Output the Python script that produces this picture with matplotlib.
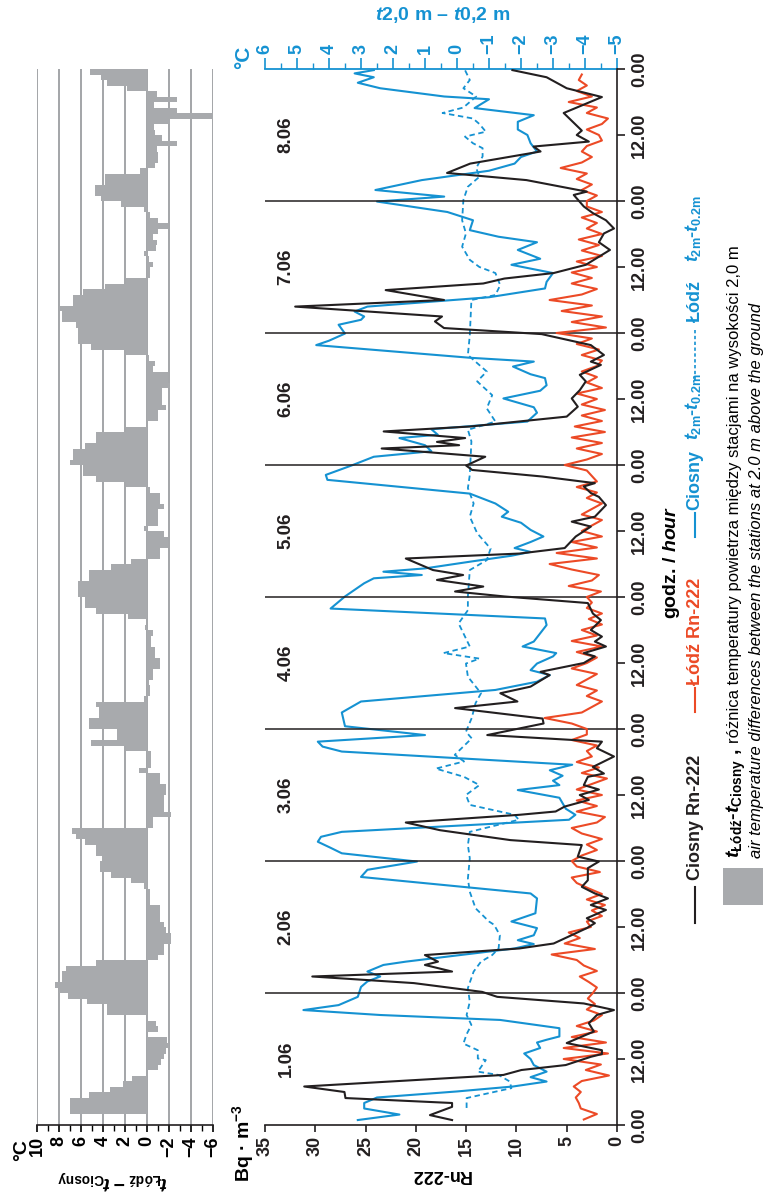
import numpy as np
import matplotlib

matplotlib.use("Agg")
from matplotlib import pyplot as plt
from matplotlib.lines import Line2D
from matplotlib.patches import Rectangle

plt.rcParams['font.family'] = ['Liberation Sans', 'DejaVu Sans']
plt.rcParams['font.weight'] = 'bold'
plt.rcParams['mathtext.fontset'] = 'custom'
plt.rcParams['mathtext.rm'] = 'Liberation Sans:bold'
plt.rcParams['mathtext.it'] = 'Liberation Sans:italic:bold'
plt.rcParams['mathtext.bf'] = 'Liberation Sans:bold'

BLACK = '#231f20'
RED = '#ec4a26'
BLUE = '#1592d2'
GRAY = '#a8aaad'
GRID = '#9c9ea1'

day_names = ['1.06', '2.06', '3.06', '4.06', '5.06', '6.06', '7.06', '8.06']
hour_ticks = list(range(0, 193, 12))
hour_labels = ['0.00' if h % 24 == 0 else '12.00' for h in hour_ticks]
rn_ticks = [0, 5, 10, 15, 20, 25, 30, 35]
dt_ticks = list(range(-5, 7))
diff_ticks = list(range(-6, 11, 2))

# Ciosny Rn-222 [Bq/m3], (hour from 1.06 0.00, value)
ciosny_rn_h = [0.9, 1.8, 3.3, 4.0, 4.9, 6.0, 7.0, 9.1, 10.0, 10.9, 12.4, 12.9, 13.6, 14.9, 17.0, 18.5, 20.0, 20.9,
               22.1, 23.3, 24.2, 25.1, 25.8, 27.0, 27.9, 29.1, 29.7, 30.9, 32.1, 33.0, 35.8, 36.7, 37.6, 39.1,
               40.0, 41.2, 42.1, 43.3, 44.5, 46.7, 47.9, 48.8, 50.9, 51.8, 53.6, 55.0, 56.4, 57.0, 57.9, 59.1,
               60.0, 61.0, 61.8, 63.3, 63.9, 65.1, 67.0, 68.5, 69.7, 70.9, 73.0, 73.9, 75.8, 77.0, 78.5, 79.7,
               81.8, 82.4, 84.0, 85.2, 85.8, 87.0, 87.9, 88.8, 90.0, 91.8, 93.0, 94.9, 96.1, 97.0, 97.9, 99.1,
               100.0, 100.9, 103.0, 103.9, 104.9, 107.0, 108.8, 109.7, 110.6, 112.7, 114.2, 114.9, 116.1,
               116.7, 117.9, 119.1, 119.9, 121.5, 123.0, 123.6, 124.2, 124.9, 126.1, 127.0, 128.8, 130.6,
               132.1, 133.6, 135.2, 136.4, 138.2, 138.8, 140.0, 141.8, 143.8, 144.9, 146.1, 147.0, 148.8,
               150.0, 151.8, 153.0, 153.9, 154.9, 156.4, 159.1, 160.5, 162.1, 163.0, 164.5, 165.8, 167.0,
               169.1, 169.7, 171.8, 173.1, 174.8, 177.0, 177.9, 178.8, 180.0, 180.8, 184.0, 186.9, 188.5,
               190.5, 191.8]
ciosny_rn = [16.4, 18.6, 16.4, 16.4, 27.0, 27.1, 31.1, 11.3, 9.5, 5.1, 2.6, 1.5, 1.5, 5.0, 2.3, 2.8, 2.0, 0.3,
             3.3, 11.9, 13.4, 17.2, 20.2, 30.3, 16.4, 19.1, 17.8, 19.1, 9.7, 6.3, 3.0, 2.2, 3.0, 1.1,
             2.6, 0.9, 2.2, 3.5, 2.9, 2.9, 1.8, 3.9, 3.5, 10.6, 17.6, 21.0, 9.7, 6.1, 5.2, 2.8,
             3.7, 1.8, 3.3, 2.9, 1.3, 2.4, 0.3, 2.0, 1.5, 12.9, 7.3, 7.4, 16.1, 9.9, 11.6, 8.6,
             6.7, 7.6, 3.3, 2.2, 3.3, 1.1, 2.2, 1.5, 2.6, 1.6, 2.4, 2.9, 11.2, 16.1, 13.3, 17.9,
             15.3, 18.3, 21.0, 9.7, 5.2, 4.1, 2.6, 4.5, 2.2, 1.1, 1.8, 2.6, 3.3,
             2.2, 7.4, 14.4, 15.0, 13.1, 23.4, 15.7, 17.9, 15.1, 23.2, 14.6, 5.0, 3.9,
             4.5, 3.7, 3.1, 3.7, 1.6, 2.6, 1.3, 2.6, 7.5, 17.2, 18.1, 17.4, 32.0,
             17.2, 23.0, 13.3, 11.2, 6.3, 3.1, 0.7, 1.8, 1.3, 0.3, 1.1, 2.4, 3.3,
             4.3, 3.0, 9.0, 16.9, 14.6, 7.6, 8.3, 2.8, 4.0, 3.5, 5.3, 1.5, 5.0,
             7.0, 10.4]

# Łódź Rn-222 [Bq/m3], hourly from 1.06 1.00
lodz_rn = [3.3, 2.0, 3.6, 3.8, 4.1, 3.6, 4.3, 3.5, 0.8, 3.1, 1.6, 5.3, 0.9, 5.3, 1.1, 4.5, 2.0, 4.0, 2.3, 1.5,
           3.0, 2.2, 2.9,
           2.4, 2.0, 2.8, 3.7, 2.0, 3.3, 4.0, 6.5, 2.2, 5.2, 3.7, 4.8, 2.6, 3.0, 1.5, 2.5, 1.2, 3.0, 1.5, 2.8,
           4.0, 4.5, 1.7, 4.0,
           4.5, 3.5, 2.0, 3.0, 1.5, 3.5, 4.5, 2.0, 1.2, 4.0, 2.0, 4.0, 1.5, 4.0, 2.5, 1.0, 3.5, 1.8, 4.0, 2.5,
           3.0, 2.0, 4.5, 3.0,
           3.0, 4.5, 7.2, 3.5, 2.5, 1.5, 3.0, 2.0, 4.0, 3.0, 2.0, 4.5, 3.0, 2.0, 4.0, 1.5, 4.5, 2.0, 3.5, 1.5,
           2.8, 1.5, 3.0, 2.5,
           3.0, 1.6, 4.8, 2.5, 1.8, 4.5, 6.7, 2.0, 6.0, 2.0, 4.5, 1.5, 3.5, 2.5, 1.5, 3.5, 2.5, 1.5, 3.0, 2.0,
           4.0, 2.0, 2.5, 3.0,
           5.2, 3.0, 1.5, 4.0, 1.5, 4.5, 1.2, 4.2, 1.5, 3.5, 1.2, 3.5, 2.0, 4.0, 1.5, 3.0, 2.0, 3.5, 2.0, 1.5,
           3.5, 1.8, 4.0, 2.5,
           6.0, 1.1, 4.5, 1.5, 5.5, 2.5, 6.7, 3.5, 2.0, 4.5, 2.5, 4.5, 2.0, 4.0, 1.5, 3.5, 1.8, 3.8, 1.5, 3.0,
           2.0, 3.5, 1.5, 3.0,
           3.0, 2.0, 3.5, 2.5, 4.0, 3.0, 5.6, 3.5, 2.5, 3.5, 3.0, 1.5, 1.8, 3.0, 1.5, 0.9, 3.0, 2.0, 4.8, 2.5,
           4.0, 3.0, 3.8, 3.5]

# Ciosny t2.0m - t0.2m [deg C]
ciosny_dt_h = [0.9, 1.9, 3.0, 4.0, 5.0, 6.1, 7.0, 7.9, 8.7, 9.7, 10.9, 12.0, 13.0, 14.0, 15.0, 15.5, 16.1, 17.6,
               19.1, 20.0, 20.9, 21.8, 23.3, 25.1, 26.1, 27.0, 27.9, 29.1, 29.7, 32.1, 32.9, 33.6, 34.5, 35.8,
               37.0, 38.5, 41.2, 42.1, 45.1, 46.4, 47.9, 49.4, 50.4, 51.5, 52.4, 53.3, 55.5, 56.4, 57.5, 58.5,
               59.5, 60.9, 61.8, 62.6, 63.5, 64.5, 65.5, 67.9, 68.8, 69.7, 70.9, 72.5, 75.0, 77.0, 79.1, 80.6,
               81.8, 82.7, 83.9, 85.2, 85.8, 87.0, 87.9, 89.4, 90.9, 92.1, 93.9, 96.1, 97.3, 98.5, 99.4, 100.0,
               100.6, 101.2, 102.5, 103.5, 104.2, 104.9, 106.0, 107.0, 108.2, 109.5, 110.6, 111.5, 113.0,
               114.8, 117.3, 118.2, 119.9, 121.5, 122.5, 123.6, 124.9, 125.5, 126.5, 127.9, 129.5, 130.5,
               132.1, 133.5, 134.5, 135.8, 136.5, 137.9, 138.8, 139.5, 141.8, 142.6, 143.9, 145.5, 146.4,
               147.0, 147.9, 148.8, 150.5, 152.1, 153.3, 154.9, 156.4, 157.5, 159.1, 160.5, 161.5, 162.7,
               164.5, 166.0, 167.9, 168.8, 170.0, 171.8, 173.5, 174.8, 176.0, 177.0, 178.5, 180.0, 181.0,
               182.4, 183.6, 184.9, 186.5, 187.0, 188.5, 189.5, 190.5, 191.2, 191.8]
ciosny_dt = [3.1, 1.8, 2.9, 2.9, 2.5, 0.0, -1.75, -2.8, -2.3, -2.8, -2.4, -2.3, -2.1, -2.6, -2.5, -2.8, -3.2, -3.2,
             -1.35, 2.4, 4.8, 3.7, 3.1, 3.0, 2.8, 2.4, 2.8, 2.3, 1.6, -1.8, -2.4, -1.9, -2.4, -2.5,
             -1.7, -2.45, -2.5, -2.3, 3.0, 2.8, 1.25, 3.6, 3.95, 4.35, 4.25, 3.6, -3.5, -3.7, -3.4, -3.3,
             -3.2, -1.9, -3.2, -3.0, -3.3, -2.9, -3.6, 3.6, 4.2, 4.35, 1.0, 3.5, 3.6, 3.0, -1.2, -2.5,
             -2.9, -2.3, -2.5, -3.0, -3.1, -2.05, -2.4, -2.6, -2.8, -2.75, 3.95, 3.5, 3.2, 2.9, 2.6, 1.1,
             2.3, 1.0, -0.5, -1.7, -2.3, -1.8, -2.3, -2.7, -2.3, -2.0, -1.4, -1.6, -1.2,
             -0.4, 4.05, 4.1, 3.3, 2.6, 0.8, 1.0, 1.8, 0.6, 0.8, -2.2, -2.5, -2.4,
             -1.45, -2.6, -2.8, -2.75, -2.3, -1.75, -2.4, -0.4, 4.4, 4.0, 3.5, 3.7, 3.0,
             2.9, 3.2, 2.8, -1.0, -2.75, -2.8, -3.0, -1.7, -2.6, -1.9, -2.5, -1.3, -0.4,
             -0.5, 0.3, 2.5, 0.4, 2.55, 1.1, -1.0, -1.8, -2.0, -2.5, -2.3, -2.2, -1.9,
             -1.9, -2.4, -0.55, -1.0, 0.4, 2.4, 3.1, 2.6, 3.2, 2.6]

# Łódź t2.0m - t0.2m [deg C]
lodz_dt_h = [3.1, 4.9, 6.7, 7.9, 9.1, 9.7, 11.8, 12.1, 13.6, 14.8, 16.5, 18.2, 20.0, 22.4, 24.9, 27.9, 29.7,
             30.9, 32.1, 34.5, 36.4, 37.0, 39.4, 42.4, 44.8, 48.5, 50.9, 53.3, 55.5, 56.4, 58.2, 60.0, 61.8,
             63.3, 64.8, 66.1, 67.3, 70.3, 71.5, 74.0, 76.7, 78.5, 81.5, 83.9, 84.8, 85.8, 87.0, 91.2, 93.6,
             96.1, 100.9, 102.7, 104.8, 107.6, 110.6, 113.0, 115.8, 118.2, 124.3, 126.4, 127.9, 130.3,
             132.7, 135.2, 137.0, 140.0, 143.6, 150.0, 150.9, 152.7, 154.9, 156.0, 157.3, 159.7, 162.1,
             164.5, 168.2, 170.6, 172.4, 174.0, 176.1, 177.6, 178.5, 179.7, 180.6, 182.0, 183.0, 184.0,
             185.0, 186.0, 187.0, 188.5, 190.0, 191.8]
lodz_dt = [-0.3, -0.3, -1.7, -1.65, -1.3, -0.65, -0.9, -0.65, -0.65, -0.2, -0.3, -0.45, -0.3, -0.4, -0.34, -0.52,
           -0.75, -1.1, -1.3, -1.34, -1.16, -1.0, -0.58, -0.4, -0.34, -0.4, -0.34, -0.4, -1.93, -1.8, -0.4,
           -0.28, -0.7, -0.22, 0.66, -0.22, 0.07, -0.46, -0.28, -0.46, -0.58, -0.75, -0.34, -0.28, -0.7, 0.42,
           -0.4, -0.05, -0.34, -0.34, -0.4, -0.93, -1.05, -0.63, -0.4, -0.52, -0.34, -0.4, -0.45, -0.34, -1.2,
           -0.93, -1.1, -0.63, -0.93, -0.34, -0.4, -0.45, -1.2, -1.35, -1.2, -0.7, -0.4, -0.16, -0.28,
           -0.16, -0.2, -0.34, -0.7, -0.6, -0.8, -0.8, -0.5, -0.25, -0.9, -0.7, -0.5, 0.45,
           -0.2, -0.4, -0.6, -0.2, -0.4, -0.25]

# t(Łódź) - t(Ciosny) at 2.0 m [deg C], hourly from 1.06 0.00
diff_t = [0, 0, 7.0, 7.0, 7.0, 5.3, 3.4, 2.2, 1.4, 0, -1.0, -1.3, -1.5, -1.7, -2.0, -1.8, 0, -1.0, -0.8, 0,
          3.6, 3.6, 5.5, 7.2,
          8.0, 8.4, 7.7, 7.7, 7.4, 4.6, -1.0, -1.5, -1.5, -2.2, -2.2, -1.7, -1.5, -1.2, -1.2, -1.2, -0.3, -0.3,
          -0.3, 0.3, 1.5, 3.25, 4.3, 4.3,
          4.1, 4.6, 4.6, 5.6, 6.5, 6.8, -0.5, -0.5, -2.2, -1.5, -1.5, -1.5, -1.7, -1.7, -1.2, -1.2, 0.7, -0.35,
          -0.35, -0.35, 1.9, 5.1, 2.7, 2.7,
          5.3, 5.3, 4.4, 4.4, 4.6, 0.3, -0.3, -0.3, -0.2, -0.5, -0.5, -1.2, -1.2, -0.7, -0.7, -0.4, -0.4, -0.5,
          0.2, 0, 1.7, 4.6, 5.6, 5.6,
          6.3, 6.3, 6.3, 5.3, 5.3, 3.25, 1.5, -1.2, -1.2, -1.9, -1.9, -1.5, 0.3, -1.0, -1.0, -1.0, -1.5, -1.2,
          -1.2, -0.3, 1.9, 4.6, 5.8, 5.8,
          7.0, 6.7, 6.7, 5.6, 4.6, 4.6, 1.9, 0, -1.0, -1.0, -1.7, -1.4, -1.4, -1.4, -2.05, -1.9, -1.9, -0.5,
          -0.7, -0.2, 1.9, 5.1, 6.3, 6.3,
          6.3, 6.5, 7.7, 7.7, 7.9, 6.7, 6.7, 5.8, 3.8, 1.9, -0.3, -0.3, -0.5, -0.2, 0.3, -0.8, -0.9, -0.5,
          -1.0, -1.9, -1.0, -0.3, 0.3, 2.4,
          4.2, 4.7, 4.7, 3.8, 3.8, 0.6, -0.7, -1.0, -1.0, -0.9, -2.75, -1.4, -0.7, -0.6, -2.1, -6.0, -2.7,
          -0.6, -2.7, -0.9, 1.8, 3.6, 4.2, 5.2]


def minus(v):
    return str(v).replace('-', '\u2212')


W, H = 765, 1198
fig = plt.figure(figsize=(W / 100, H / 100), dpi=100)


def rect(x0, y0, x1, y1):
    return [x0 / W, 1 - y1 / H, (x1 - x0) / W, (y1 - y0) / H]


def fp(x, y):
    return x / W, 1 - y / H


def ftext(x, y, s, **kw):
    fig.text(x / W, 1 - y / H, s, **kw)


def fline(x0, y0, x1, y1, **kw):
    fig.add_artist(Line2D([x0 / W, x1 / W], [1 - y0 / H, 1 - y1 / H], transform=fig.transFigure, **kw))


# --- radon panel ---
ax = fig.add_axes(rect(265, 69, 617, 1125))
ax2 = ax.twiny()
ax.set_zorder(ax2.get_zorder() + 1)
ax.patch.set_visible(False)

ax.set_xlim(35, 0)
ax.set_ylim(0, 192)
for s in ['left', 'top']:
    ax.spines[s].set_visible(False)
for s in ['bottom', 'right']:
    ax.spines[s].set_color(BLACK)
    ax.spines[s].set_linewidth(1.2)

ax.yaxis.tick_right()
ax.set_yticks(hour_ticks)
ax.set_yticklabels(hour_labels, rotation=90, va='center', fontsize=13)
ax.tick_params(axis='y', direction='out', length=6, width=1.2, pad=4, colors=BLACK)
ax.set_xticks(rn_ticks)
ax.set_xticklabels([str(v) for v in rn_ticks], rotation=90, fontsize=13)
ax.tick_params(axis='x', direction='out', length=5, width=1.2, pad=3, colors=BLACK)

for d in range(1, 8):
    ax.axhline(24 * d, color=BLACK, lw=1.1, zorder=1)

red_hours = np.arange(1, len(lodz_rn) + 1)
ax.plot(lodz_rn, red_hours, color=RED, lw=1.5, zorder=3)
ax.plot(ciosny_rn, ciosny_rn_h, color=BLACK, lw=1.5, zorder=4)

for i, name in enumerate(day_names):
    ax.text(32.9, 24 * i + 12, name, rotation=90, ha='center', va='center', fontsize=13.5, color=BLACK)

# --- temperature gradient (blue) on the twin axis ---
ax2.set_xlim(6, -5)
for s in ['left', 'right', 'bottom']:
    ax2.spines[s].set_visible(False)
ax2.spines['top'].set_color(BLUE)
ax2.spines['top'].set_linewidth(1.3)
ax2.set_xticks(dt_ticks)
ax2.set_xticks(np.arange(-4.5, 6, 1.0), minor=True)
ax2.set_xticklabels([minus(v) for v in dt_ticks], rotation=90, fontsize=13, color=BLUE)
ax2.tick_params(axis='x', which='major', direction='out', length=8, width=1.2, colors=BLUE, pad=3)
ax2.tick_params(axis='x', which='minor', direction='out', length=4, width=1.0, colors=BLUE)
ax2.plot(ciosny_dt, ciosny_dt_h, color=BLUE, lw=1.5)
ax2.plot(lodz_dt, lodz_dt_h, color=BLUE, lw=1.3, linestyle=(0, (3, 2)))

# --- Łódź minus Ciosny panel ---
axg = fig.add_axes(rect(37, 69, 213, 1125))
axg.set_xlim(10, -6)
axg.set_ylim(0, 192)
for v in diff_ticks:
    axg.axvline(v, color=GRID, lw=1.3, zorder=1)
axg.barh(np.arange(len(diff_t)), diff_t, height=1.0, left=0, align='edge', color=GRAY, lw=0, zorder=2)
for s in ['left', 'right', 'top']:
    axg.spines[s].set_visible(False)
axg.spines['bottom'].set_color(BLACK)
axg.spines['bottom'].set_linewidth(1.2)
axg.set_yticks([])
axg.set_xticks(diff_ticks)
axg.set_xticks(list(range(-5, 10, 2)), minor=True)
axg.set_xticklabels([minus(v) for v in diff_ticks], rotation=90, fontsize=13)
axg.tick_params(axis='x', which='major', direction='out', length=5, width=1.2, pad=3)
axg.tick_params(axis='x', which='minor', direction='out', length=4, width=1.0)

# --- axis titles ---
ftext(22, 1150, '°C', rotation=90, ha='center', va='center', fontsize=14)
ftext(112, 1180, r'$t_{\rm Łódź}-t_{\rm Ciosny}$', rotation=180, ha='center', va='center', fontsize=14)
ftext(243, 1143, r'Bq · m$^{-3}$', rotation=90, ha='center', va='center', fontsize=14)
ftext(441, 1175, 'Rn-222', rotation=180, ha='center', va='center', fontsize=13)
ftext(244, 57, '°C', rotation=90, ha='center', va='center', fontsize=15, color=BLUE)
ftext(443, 15, r'$t$2,0 m – $t$0,2 m', ha='center', va='center', fontsize=14, color=BLUE)
ftext(671, 562, r'godz. / $\mathit{hour}$', rotation=90, ha='center', va='center', fontsize=14)

# --- legend ---
fline(695, 887, 695, 923, color=BLACK, lw=1.5)
ftext(695, 880, 'Ciosny Rn-222', rotation=90, ha='center', va='bottom', fontsize=13, color=BLACK)
fline(695, 688, 695, 712, color=RED, lw=1.5)
ftext(695, 685, 'Łódź Rn-222', rotation=90, ha='center', va='bottom', fontsize=13, color=RED)
fline(695, 513, 695, 537, color=BLUE, lw=1.5)
ftext(695, 510, 'Ciosny', rotation=90, ha='center', va='bottom', fontsize=13, color=BLUE)
ftext(693, 440, r'$t_{\rm 2m}$-$t_{\rm 0.2m}$', rotation=90, ha='center', va='bottom', fontsize=13,
      color=BLUE)
fline(695, 330, 695, 382, color=BLUE, lw=1.2, linestyle=(0, (2, 1.5)))
ftext(695, 322, 'Łódź', rotation=90, ha='center', va='bottom', fontsize=13, color=BLUE)
ftext(693, 262, r'$t_{\rm 2m}$-$t_{\rm 0.2m}$', rotation=90, ha='center', va='bottom', fontsize=13,
      color=BLUE)

fig.add_artist(Rectangle(fp(723, 905), 40 / W, 37 / H, transform=fig.transFigure,
                         facecolor=GRAY, edgecolor='none'))
ftext(736, 858, r'$t_{\rm Łódź}$-$t_{\rm Ciosny}$ ,', rotation=90, ha='center', va='bottom', fontsize=14)
ftext(734, 743, 'różnica temperatury powietrza między stacjami na wysokości 2,0 m', rotation=90,
      ha='center', va='bottom', fontsize=12, fontweight='normal')
ftext(756, 858, 'air temperature differences between the stations at 2.0 m above the ground', rotation=90,
      ha='center', va='bottom', fontsize=12, fontweight='normal', style='italic')

fig.savefig('out.png', dpi=100)
